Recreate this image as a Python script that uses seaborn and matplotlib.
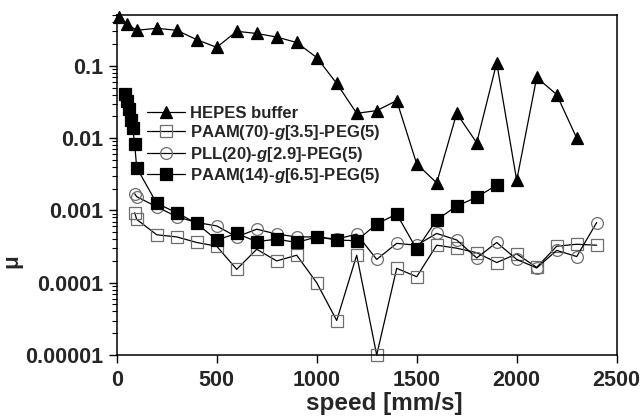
import numpy as np
import pandas as pd
import matplotlib
matplotlib.use("Agg")
import matplotlib.pyplot as plt
from matplotlib.ticker import FixedLocator, FixedFormatter, LogLocator, NullFormatter
import seaborn as sns

# ---------------- data ----------------
speed_hepes = [10, 50, 100, 200, 300, 400, 500, 600, 700, 800, 900, 1000, 1100,
               1200, 1300, 1400, 1500, 1600, 1700, 1800, 1900, 2000, 2100, 2200, 2300]
mu_hepes = [0.47, 0.38, 0.31, 0.33, 0.31, 0.23, 0.18, 0.30, 0.28, 0.25, 0.21, 0.13,
            0.057, 0.022, 0.024, 0.033, 0.0044, 0.0024, 0.022, 0.0086, 0.11, 0.0026,
            0.069, 0.040, 0.010]

speed_paam70 = [90, 100, 200, 300, 400, 500, 600, 700, 800, 900, 1000, 1100, 1200,
                1300, 1400, 1500, 1600, 1700, 1800, 1900, 2000, 2100, 2200, 2300, 2400]
mu_paam70 = [0.00093, 0.00075, 0.00046, 0.00043, 0.00036, 0.00032, 0.000153, 0.00029,
             0.00020, 0.00024, 0.00010, 0.00003, 0.00024, 0.00001, 0.000158, 0.000121,
             0.00033, 0.00030, 0.00026, 0.00019, 0.00025, 0.000163, 0.00032, 0.00034,
             0.00033]

speed_pll = [90, 100, 200, 300, 400, 500, 600, 700, 800, 900, 1000, 1100, 1200,
             1300, 1400, 1500, 1600, 1700, 1800, 1900, 2000, 2100, 2200, 2300, 2400]
mu_pll = [0.00170, 0.00155, 0.00112, 0.00082, 0.00068, 0.00061, 0.00043, 0.00055,
          0.00047, 0.00043, 0.00043, 0.00040, 0.00047, 0.00021, 0.00035, 0.00033,
          0.00048, 0.00039, 0.00022, 0.00036, 0.00021, 0.00016, 0.00028, 0.00023,
          0.00068]

speed_paam14 = [40, 50, 60, 70, 80, 90, 100, 200, 300, 400, 500, 600, 700, 800, 900,
                1000, 1100, 1200, 1300, 1400, 1500, 1600, 1700, 1800, 1900]
mu_paam14 = [0.041, 0.033, 0.025, 0.018, 0.014, 0.0082, 0.0039, 0.00125, 0.00093,
             0.00066, 0.00039, 0.00048, 0.00037, 0.00040, 0.00036, 0.00043, 0.00039,
             0.00038, 0.00065, 0.00089, 0.00029, 0.00074, 0.00115, 0.00152, 0.00224]

labels = ["HEPES buffer",
          r"PAAM(70)-$\mathit{g}$[3.5]-PEG(5)",
          r"PLL(20)-$\mathit{g}$[2.9]-PEG(5)",
          r"PAAM(14)-$\mathit{g}$[6.5]-PEG(5)"]

xticks = [0, 500, 1000, 1500, 2000, 2500]
yticks = [1e-5, 1e-4, 1e-3, 1e-2, 1e-1]
ytick_labels = ["0.00001", "0.0001", "0.001", "0.01", "0.1"]

# ---------------- style ----------------
sns.set_style("ticks")
plt.rcParams["font.family"] = ["Liberation Sans", "DejaVu Sans"]
plt.rcParams["font.weight"] = "bold"
plt.rcParams["mathtext.fontset"] = "custom"
plt.rcParams["mathtext.it"] = "Liberation Sans:italic:bold"
plt.rcParams["mathtext.rm"] = "Liberation Sans:bold"
plt.rcParams["mathtext.bf"] = "Liberation Sans:bold"

fig = plt.figure(figsize=(6.43, 4.20), dpi=100)
ax = fig.add_axes([116.7 / 643, 1 - 355 / 420, 500 / 643, (355 - 14.7) / 420])

series = [
    (speed_hepes, mu_hepes, labels[0], dict(marker="^", markersize=9, mfc="black", mec="black")),
    (speed_paam70, mu_paam70, labels[1], dict(marker="s", markersize=8.5, mfc="none", mec="#6e6e6e")),
    (speed_pll, mu_pll, labels[2], dict(marker="o", markersize=8.5, mfc="none", mec="#6e6e6e")),
    (speed_paam14, mu_paam14, labels[3], dict(marker="s", markersize=9, mfc="black", mec="black")),
]

for xs, ys, lab, st in series:
    df = pd.DataFrame({"speed": xs, "mu": ys})
    sns.lineplot(data=df, x="speed", y="mu", ax=ax, color="black", linewidth=0.9,
                 estimator=None, sort=False, label=lab, markeredgewidth=0.9,
                 clip_on=False, **st)

ax.set_yscale("log")
ax.set_xlim(0, 2500)
ax.set_ylim(1e-5, 0.509)

ax.xaxis.set_major_locator(FixedLocator(xticks))
ax.set_xticklabels([str(v) for v in xticks])
ax.yaxis.set_major_locator(FixedLocator(yticks))
ax.yaxis.set_major_formatter(FixedFormatter(ytick_labels))
ax.yaxis.set_minor_locator(LogLocator(base=10, subs=np.arange(2, 10), numticks=20))
ax.yaxis.set_minor_formatter(NullFormatter())

ax.tick_params(axis="x", which="major", direction="out", length=6, width=1.0,
               labelsize=15.5, pad=5, color="black")
ax.tick_params(axis="y", which="major", direction="out", length=6, width=1.0,
               labelsize=15.5, pad=4, color="black")
ax.tick_params(axis="y", which="minor", direction="out", length=3.5, width=0.8, color="black")
ax.tick_params(axis="x", which="minor", bottom=False)
for lbl in ax.get_xticklabels() + ax.get_yticklabels():
    lbl.set_fontweight("bold")

for sp in ax.spines.values():
    sp.set_visible(True)
    sp.set_linewidth(1.1)
    sp.set_color("black")

ax.set_xlabel("speed [mm/s]", fontsize=17.5, fontweight="bold")
ax.xaxis.set_label_coords(0.536, -0.108)
ax.set_ylabel("$\\mathbf{\u03bc}$", fontsize=16, fontweight="bold")
ax.yaxis.set_label_coords(-0.181, 0.27)

leg = ax.legend(loc="upper left", bbox_to_anchor=(0.060, 0.733), frameon=False,
                fontsize=12, handlelength=2.3, handletextpad=0.3, labelspacing=0.15,
                borderpad=0, borderaxespad=0)
for t in leg.get_texts():
    t.set_fontweight("bold")

fig.savefig("out.png", dpi=100)
